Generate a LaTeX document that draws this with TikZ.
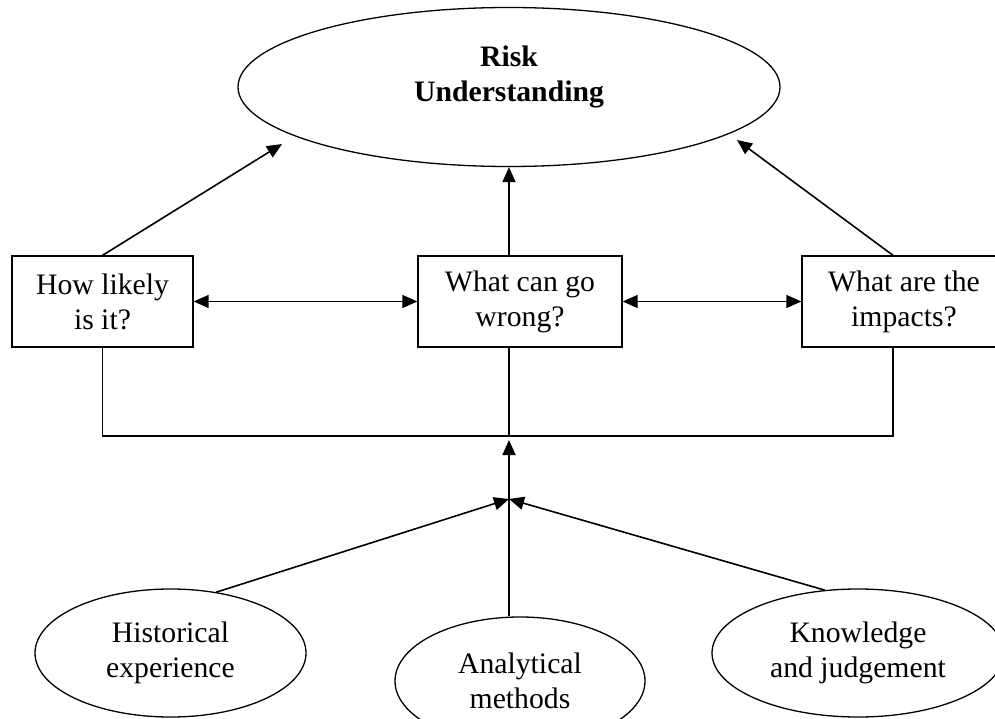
\documentclass[tikz,border=0pt]{standalone}
\usepackage{fontspec}
\setmainfont{Liberation Serif}
\usetikzlibrary{shapes.geometric,arrows.meta}

\begin{document}
\begin{tikzpicture}[x=1pt,y=-1pt,
  txt/.style={font=\fontsize{29.7pt}{35pt}\selectfont,align=center},
  box/.style={txt,draw,line width=1.3pt,inner sep=0pt,minimum height=91pt},
  oval/.style={txt,draw,ellipse,line width=1.3pt,inner sep=0pt},
  arr/.style={line width=1.6pt,-{Triangle[length=15pt,width=13pt]}},
  dbl/.style={line width=1.4pt,{Triangle[length=15pt,width=13pt]}-{Triangle[length=15pt,width=13pt]}},
  link/.style={line width=1.4pt}]

\useasboundingbox (0,0) rectangle (995,719);
\clip (0,0) rectangle (995,719);

%------------------------------------------------
% Risk understanding
%------------------------------------------------

\node[oval,minimum width=542pt,minimum height=159pt,
  label={[txt,font=\fontsize{29.7pt}{35pt}\selectfont\bfseries,yshift=10pt]center:Risk\\Understanding}]
  (risk) at (509,87) {};

%------------------------------------------------
% Questions
%------------------------------------------------

\node[box,minimum width=181pt] (likely)  at (102.5,301.5) {How likely\\is it?};
\node[box,minimum width=204pt] (wrong)   at (520,301.5)   {What can go\\wrong?};
\node[box,minimum width=204pt] (impacts) at (904,301.5)   {What are the\\impacts?};

%------------------------------------------------
% Sources
%------------------------------------------------

\node[oval,minimum width=271pt,minimum height=128pt] (hist) at (170.5,653) {Historical\\experience};
\node[oval,minimum width=250pt,minimum height=128pt] (ana)  at (520,681)   {Analytical\\methods};
\node[oval,minimum width=292pt,minimum height=128pt] (know) at (858,653)   {Knowledge\\and judgement};

%------------------------------------------------
% Connectors
%------------------------------------------------

\coordinate (tipL) at (282,144);
\coordinate (tipR) at (737,140);
\coordinate (bus)  at (509,436);
\coordinate (meet) at (509,499);

\draw[arr] (likely.north) -- (tipL);
\draw[arr] ([xshift=-11pt]wrong.north) -- (risk.south);
\draw[arr] ([xshift=-11pt]impacts.north) -- (tipR);

\draw[dbl] (likely.east) -- (wrong.west);
\draw[dbl] (wrong.east) -- (impacts.west);

\draw[link] (likely.south) |- (bus) -| ([xshift=-11pt]impacts.south);
\draw[link] ([xshift=-11pt]wrong.south) -- (bus);

\draw[arr] ([xshift=-11pt]ana.north) -- ([yshift=-4pt]bus);
\draw[arr] (hist.53) -- (meet);
\draw[arr] (know.118) -- (meet);

\end{tikzpicture}
\end{document}
